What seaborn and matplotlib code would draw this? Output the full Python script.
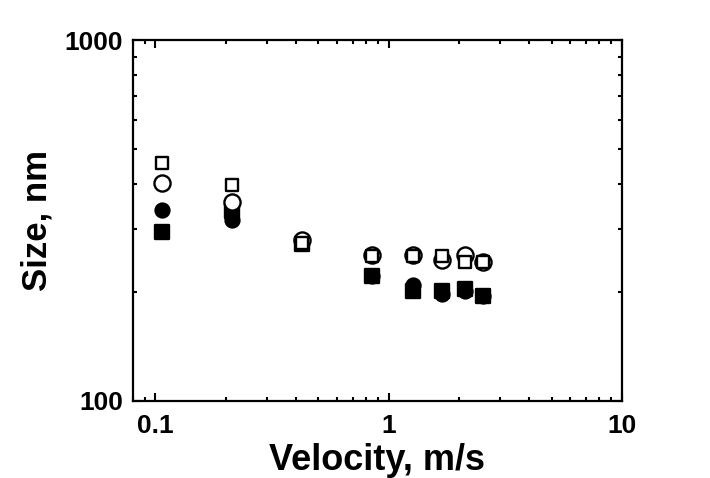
import matplotlib
matplotlib.use("Agg")
import matplotlib.pyplot as plt
import seaborn as sns
import pandas as pd
from matplotlib.ticker import LogLocator, FixedLocator, FixedFormatter, NullFormatter

# ---- data ----
velocity = [0.107, 0.213, 0.425, 0.85, 1.27, 1.69, 2.12, 2.54]
filled_circle = [338, 317, 276, 222, 209, 198, 201, 195]
filled_square = [294, 336, 272, 222, 201, 201, 204, 195]
open_circle = [401, 356, 279, 254, 254, 245, 254, 242]
open_square = [455, 396, 274, 252, 252, 252, 243, 243]

x_ticks = [0.1, 1, 10]
x_tick_labels = ["0.1", "1", "10"]
y_ticks = [100, 1000]
y_tick_labels = ["100", "1000"]

sns.set_theme(style="ticks")
plt.rcParams["font.family"] = ["Liberation Sans", "DejaVu Sans"]
plt.rcParams["font.weight"] = "bold"
plt.rcParams["text.color"] = "black"
plt.rcParams["axes.labelcolor"] = "black"
plt.rcParams["xtick.color"] = "black"
plt.rcParams["ytick.color"] = "black"

fig = plt.figure(figsize=(7.1, 4.78), dpi=100)
ax = fig.add_axes([0.187, 0.162, 0.689, 0.754])

series = [
    (filled_circle, "o", "black", 100),
    (filled_square, "s", "black", 90),
    (open_circle, "o", "white", 135),
    (open_square, "s", "white", 80),
]
for vals, mk, fc, s in series:
    df = pd.DataFrame({"v": velocity, "size": vals})
    sns.scatterplot(data=df, x="v", y="size", marker=mk, s=s,
                    color=fc, edgecolor="black", linewidth=1.7, ax=ax,
                    legend=False, zorder=3)

ax.set_xscale("log")
ax.set_yscale("log")
ax.set_xlim(0.08, 10)
ax.set_ylim(100, 1000)

ax.xaxis.set_major_locator(FixedLocator(x_ticks))
ax.xaxis.set_major_formatter(FixedFormatter(x_tick_labels))
ax.yaxis.set_major_locator(FixedLocator(y_ticks))
ax.yaxis.set_major_formatter(FixedFormatter(y_tick_labels))
ax.xaxis.set_minor_locator(LogLocator(base=10, subs=range(2, 10)))
ax.yaxis.set_minor_locator(LogLocator(base=10, subs=range(2, 10)))
ax.xaxis.set_minor_formatter(NullFormatter())
ax.yaxis.set_minor_formatter(NullFormatter())

ax.tick_params(which="both", direction="in", top=True, right=True,
               width=1.5, color="black", labelcolor="black")
ax.tick_params(which="major", length=5.5)
ax.tick_params(which="minor", length=3)
ax.tick_params(axis="x", which="major", pad=10, labelsize=19)
ax.tick_params(axis="y", which="major", pad=7, labelsize=19)
for lab in ax.get_xticklabels() + ax.get_yticklabels():
    lab.set_fontweight("bold")

for sp in ax.spines.values():
    sp.set_visible(True)
    sp.set_linewidth(1.6)
    sp.set_color("black")

ax.set_xlabel("Velocity, m/s", fontsize=26, fontweight="bold", labelpad=3,
              color="black")
ax.set_ylabel("Size, nm", fontsize=25, fontweight="bold", labelpad=8,
              color="black")
ax.grid(False)

fig.savefig("out.png", dpi=100, facecolor="white")
